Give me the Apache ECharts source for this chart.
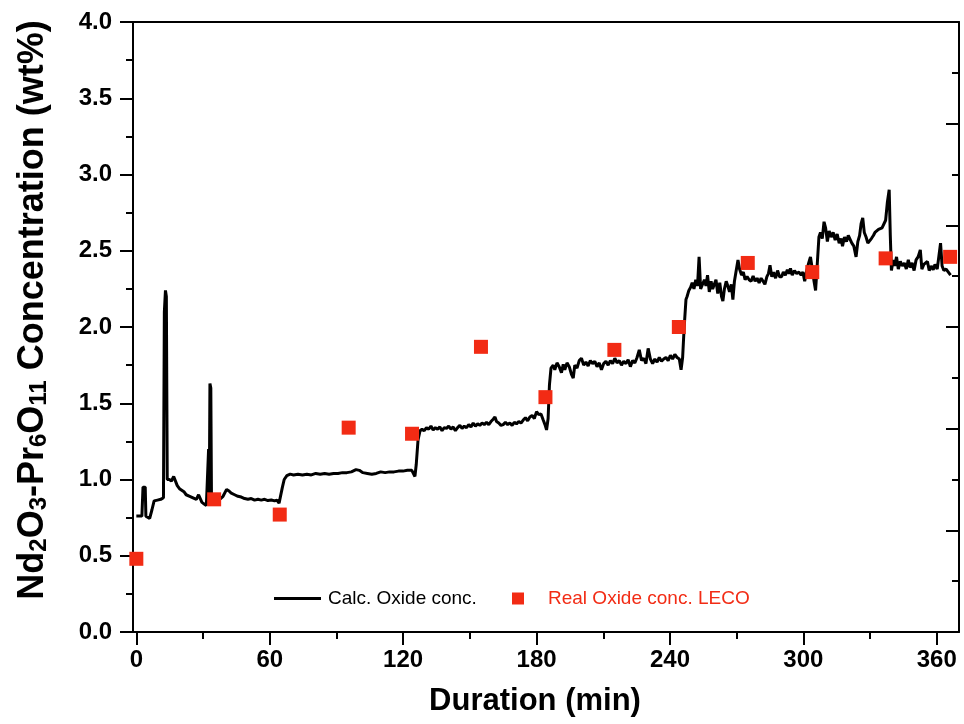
<!DOCTYPE html>
<html>
<head>
<meta charset="utf-8">
<title>Nd2O3-Pr6O11 concentration</title>
<script src="https://cdn.jsdelivr.net/npm/echarts@6/dist/echarts.min.js"></script>
<style>
html, body { margin: 0; padding: 0; background: #fff; }
#chart { width: 964px; height: 724px; }
</style>
</head>
<body>
<div id="chart"></div>
<script>
"use strict"

// calculated oxide concentration (black line), min / wt%
var calcTime = [
    0, 1.2, 2.5, 3.0, 4.0, 4.3, 5.0, 6.0, 7.0, 8.0, 9.5, 11.0, 12.2, 12.6, 13.1, 13.5, 13.9, 14.8, 15.8, 16.8,
    17.6, 18.4, 19.4, 20.4, 21.4, 22.4, 24.0, 25.5, 27.0, 28.0, 28.7, 29.5, 30.5, 31.5, 32.2, 32.5, 32.8, 33.1, 33.5, 33.8,
    34.5, 36.0, 37.5, 39.0, 40.6, 41.7, 42.7, 44.2, 45.7, 47.2, 48.7, 50.2, 51.7, 53.2, 54.7, 56.2, 57.7, 59.2, 60.7, 62.2,
    63.2, 64.2, 64.9, 65.7, 66.5, 67.7, 69.2, 70.7, 72.7, 74.7, 76.7, 78.7, 80.7, 82.7, 84.7, 86.7, 88.7, 90.7, 92.7, 94.7,
    96.7, 98.8, 100.3, 101.9, 103.9, 105.9, 107.9, 109.9, 111.9, 113.9, 115.9, 117.9, 119.9, 121.9, 123.9, 124.7, 125.3, 125.9, 126.7, 127.6,
    128.5, 129.5, 130.5, 131.5, 132.5, 133.5, 134.5, 135.5, 136.5, 137.5, 138.5, 139.5, 140.5, 141.5, 142.5, 143.5, 144.5, 145.5, 146.5, 147.5,
    148.5, 149.5, 150.5, 151.5, 152.5, 153.5, 154.5, 155.5, 156.5, 157.5, 158.5, 159.5, 160.5, 161.3, 162, 163, 164, 165, 166, 167,
    168, 169, 170, 171, 172, 173, 174, 175, 176, 177, 178, 179, 180, 181, 182, 183, 183.8, 184.5, 185.2, 185.8,
    186.5, 187.5, 188.2, 189.2, 190.2, 191.2, 192, 192.7, 193.7, 194.7, 195.7, 196.5, 197.2, 198.2, 199.2, 200.2, 201.2, 202.2, 203.2, 204.2,
    205.2, 206.2, 207.2, 208.2, 209.2, 210.2, 211.2, 212.2, 213.2, 214.2, 215.2, 216.2, 217.2, 218.2, 219.2, 220.2, 221.2, 222.2, 223.2, 224.2,
    225.2, 226.2, 227.2, 228.2, 229.2, 230.2, 231.2, 232.2, 233.2, 234.2, 235.2, 236.2, 237.2, 238.2, 239.2, 240.2, 241.2, 242.2, 243.2, 244.2,
    245.0, 245.7, 246.4, 247.2, 247.7, 248.5, 249.3, 250.0, 250.8, 251.6, 252.4, 253.1, 253.8, 254.6, 255.5, 256.2, 256.9, 257.7, 258.5, 259.2,
    259.9, 260.7, 261.5, 262.4, 263.2, 263.8, 264.5, 265.3, 266.0, 266.8, 267.6, 268.3, 269.0, 269.8, 270.6, 271.3, 272.2, 273.0, 273.8, 274.7,
    275.6, 276.5, 277.4, 278.3, 279.2, 280.1, 281.0, 281.9, 282.7, 283.6, 284.3, 285.0, 285.8, 286.6, 287.5, 288.4, 289.3, 290.2, 291.0, 291.9,
    292.8, 293.6, 294.2, 295.0, 296.0, 297.0, 298.0, 299.0, 299.8, 300.6, 301.5, 302.4, 303.2, 304.0, 304.8, 305.5, 306.2, 307.0, 307.7, 308.5,
    309.3, 310.0, 310.8, 311.6, 312.5, 313.4, 314.3, 315.2, 316.1, 317.0, 317.6, 318.5, 319.4, 320.2, 320.9, 321.8, 322.7, 323.7, 324.5, 325.3,
    326.0, 326.7, 327.4, 328.2, 329.0, 329.8, 330.6, 331.5, 332.2, 333.0, 333.8, 334.6, 335.4, 336.2, 337.0, 337.8, 338.6, 339.1, 339.6, 340.4,
    341.1, 341.9, 342.7, 343.6, 344.5, 345.4, 346.3, 347.2, 348.0, 348.9, 349.8, 350.7, 351.6, 352.6, 353.3, 354.2, 355.0, 355.8, 356.6, 357.5,
    358.4, 359.2, 360.2, 361.0, 361.7, 362.4, 363.2, 364.2, 365.2, 366.2
];
var calcConc = [
    0.76, 0.76, 0.76, 0.95, 0.95, 0.76, 0.75, 0.745, 0.80, 0.86, 0.865, 0.87, 0.88, 2.10, 2.24, 2.20, 1.00, 1.00, 0.99, 1.02,
    1.01, 0.96, 0.94, 0.93, 0.92, 0.90, 0.89, 0.88, 0.87, 0.90, 0.89, 0.85, 0.84, 0.83, 0.82, 1.20, 0.85, 1.63, 1.60, 0.88,
    0.87, 0.86, 0.87, 0.89, 0.935, 0.925, 0.91, 0.90, 0.89, 0.885, 0.875, 0.87, 0.875, 0.865, 0.87, 0.865, 0.87, 0.862, 0.866, 0.86,
    0.865, 0.845, 0.84, 0.95, 1.00, 1.025, 1.035, 1.03, 1.035, 1.03, 1.035, 1.03, 1.04, 1.035, 1.04, 1.035, 1.04, 1.04, 1.045, 1.045,
    1.05, 1.065, 1.06, 1.045, 1.04, 1.035, 1.04, 1.05, 1.045, 1.05, 1.05, 1.055, 1.055, 1.06, 1.06, 1.065, 1.02, 1.10, 1.26, 1.32,
    1.33, 1.32, 1.34, 1.33, 1.35, 1.325, 1.34, 1.33, 1.345, 1.32, 1.34, 1.335, 1.35, 1.33, 1.345, 1.32, 1.34, 1.355, 1.335, 1.35,
    1.34, 1.36, 1.345, 1.37, 1.35, 1.365, 1.355, 1.37, 1.36, 1.375, 1.36, 1.38, 1.395, 1.41, 1.38, 1.37, 1.355, 1.36, 1.375, 1.36,
    1.37, 1.355, 1.375, 1.365, 1.38, 1.37, 1.39, 1.405, 1.385, 1.41, 1.42, 1.40, 1.445, 1.425, 1.43, 1.39, 1.36, 1.325, 1.40, 1.62,
    1.73, 1.75, 1.72, 1.765, 1.74, 1.70, 1.755, 1.72, 1.765, 1.74, 1.69, 1.665, 1.75, 1.73, 1.78, 1.795, 1.75, 1.77, 1.745, 1.78,
    1.76, 1.775, 1.74, 1.765, 1.72, 1.76, 1.775, 1.75, 1.78, 1.76, 1.795, 1.765, 1.78, 1.75, 1.775, 1.76, 1.785, 1.74, 1.78, 1.765,
    1.80, 1.85, 1.78, 1.795, 1.76, 1.86, 1.79, 1.76, 1.79, 1.77, 1.80, 1.775, 1.79, 1.80, 1.78, 1.815, 1.79, 1.82, 1.80, 1.79,
    1.72, 1.80, 2.00, 2.18, 2.20, 2.24, 2.26, 2.29, 2.25, 2.31, 2.27, 2.46, 2.25, 2.24, 2.31, 2.27, 2.34, 2.23, 2.30, 2.25,
    2.24, 2.31, 2.22, 2.29, 2.20, 2.17, 2.25, 2.30, 2.27, 2.23, 2.28, 2.18, 2.30, 2.37, 2.44, 2.38, 2.34, 2.36, 2.31, 2.33,
    2.31, 2.30, 2.335, 2.30, 2.32, 2.29, 2.32, 2.30, 2.28, 2.33, 2.35, 2.405, 2.33, 2.36, 2.32, 2.37, 2.33, 2.33, 2.36, 2.34,
    2.375, 2.35, 2.385, 2.34, 2.37, 2.35, 2.36, 2.34, 2.36, 2.30, 2.37, 2.42, 2.46, 2.38, 2.30, 2.24, 2.40, 2.59, 2.62, 2.58,
    2.69, 2.65, 2.56, 2.63, 2.59, 2.62, 2.57, 2.61, 2.55, 2.58, 2.53, 2.59, 2.56, 2.60, 2.59, 2.55, 2.53, 2.46, 2.56, 2.60,
    2.68, 2.715, 2.62, 2.59, 2.55, 2.54, 2.58, 2.60, 2.62, 2.61, 2.64, 2.63, 2.65, 2.64, 2.70, 2.82, 2.90, 2.60, 2.37, 2.44,
    2.40, 2.46, 2.38, 2.43, 2.40, 2.42, 2.38, 2.44, 2.39, 2.42, 2.37, 2.44, 2.46, 2.505, 2.38, 2.41, 2.40, 2.43, 2.37, 2.40,
    2.375, 2.41, 2.38, 2.47, 2.55, 2.40, 2.37, 2.38, 2.36, 2.34
];

// LECO measurements (red squares)
var lecoTime = [0, 35, 64.5, 95.5, 124, 155, 184, 215, 244, 275, 304, 337, 366];
var lecoConc = [0.48, 0.87, 0.77, 1.34, 1.30, 1.87, 1.54, 1.85, 2.00, 2.42, 2.36, 2.45, 2.46];

var xMajorTicks = [0, 60, 120, 180, 240, 300, 360];
var xMinorTicks = [30, 90, 150, 210, 270, 330];

var FONT = "'Liberation Sans', Arial, sans-serif";
var RED = '#f22b14';

var calcData = calcTime.map(function(t, i){ return [t, calcConc[i]]; });
var lecoData = lecoTime.map(function(t, i){ return [t, lecoConc[i]]; });

var chart = echarts.init(document.getElementById('chart'));

var axisLine = { show: true, onZero: false, lineStyle: { color: '#000', width: 2 } };
var tickStyle = { color: '#000', width: 2 };

var option = {
    animation: false,
    backgroundColor: '#fff',
    grid: { left: 133, right: 5, top: 22, bottom: 92 },
    legend: [
        {
            data: ['Calc. Oxide conc.'],
            left: 269, top: 584,
            icon: 'rect',
            itemWidth: 47, itemHeight: 3,
            selectedMode: false,
            textStyle: { fontFamily: FONT, fontSize: 19, color: '#000', padding: [0, 0, 0, 2] }
        },
        {
            data: ['Real Oxide conc. LECO'],
            left: 507, top: 584,
            icon: 'rect',
            itemWidth: 12, itemHeight: 12,
            selectedMode: false,
            textStyle: { fontFamily: FONT, fontSize: 19, color: RED, padding: [0, 0, 0, 19] }
        }
    ],
    xAxis: [
        {
            type: 'value', min: -1.5, max: 370, position: 'bottom',
            axisLine: axisLine,
            axisTick: { customValues: xMajorTicks, length: 13, lineStyle: tickStyle },
            axisLabel: {
                customValues: xMajorTicks, margin: 16,
                fontFamily: FONT, fontSize: 24, fontWeight: 'bold', color: '#000'
            },
            splitLine: { show: false },
            name: 'Duration (min)',
            nameLocation: 'middle',
            nameGap: 54,
            nameTextStyle: { fontFamily: FONT, fontSize: 31, fontWeight: 'bold', color: '#000', padding: [0, 22, 0, 0] }
        },
        {
            type: 'value', min: -1.5, max: 370, position: 'bottom',
            axisLine: { show: false },
            axisTick: { customValues: xMinorTicks, length: 7, lineStyle: tickStyle },
            axisLabel: { show: false },
            splitLine: { show: false }
        },
        {
            type: 'value', min: -1.5, max: 370, position: 'top',
            axisLine: axisLine,
            axisTick: { show: false },
            axisLabel: { show: false },
            splitLine: { show: false }
        }
    ],
    yAxis: [
        {
            type: 'value', min: 0, max: 4, interval: 0.5, position: 'left',
            axisLine: axisLine,
            axisTick: { length: 13, lineStyle: tickStyle },
            minorTick: { show: true, splitNumber: 2, length: 7, lineStyle: tickStyle },
            axisLabel: {
                margin: 21,
                fontFamily: FONT, fontSize: 24, fontWeight: 'bold', color: '#000',
                formatter: function(v){ return v.toFixed(1); }
            },
            splitLine: { show: false },
            name: '{m|Nd}{s|2}{m|O}{s|3}{m|-Pr}{s|6}{m|O}{s|11}{m| Concentration (wt%)}',
            nameLocation: 'middle',
            nameRotate: 90,
            nameGap: 82,
            nameTextStyle: {
                fontFamily: FONT, fontSize: 36, fontWeight: 'bold', color: '#000',
                padding: [0, 0, 0, 34],
                rich: {
                    m: { fontFamily: FONT, fontSize: 36, fontWeight: 'bold', color: '#000', lineHeight: 40, verticalAlign: 'bottom' },
                    s: { fontFamily: FONT, fontSize: 24, fontWeight: 'bold', color: '#000', lineHeight: 10, verticalAlign: 'bottom' }
                }
            }
        },
        {
            type: 'value', min: 0, max: 6, interval: 1, position: 'right',
            axisLine: axisLine,
            axisTick: { inside: true, length: 13, lineStyle: tickStyle },
            minorTick: { show: true, splitNumber: 2, length: 7, lineStyle: tickStyle },
            axisLabel: { show: false },
            splitLine: { show: false }
        }
    ],
    series: [
        {
            name: 'Calc. Oxide conc.',
            type: 'line',
            xAxisIndex: 0, yAxisIndex: 0,
            data: calcData,
            symbol: 'none',
            color: '#000',
            lineStyle: { color: '#000', width: 3 },
            z: 2
        },
        {
            name: 'Real Oxide conc. LECO',
            type: 'scatter',
            xAxisIndex: 0, yAxisIndex: 0,
            data: lecoData,
            symbol: 'rect',
            symbolSize: 14,
            itemStyle: { color: RED, opacity: 1 },
            z: 3
        }
    ]
};

chart.setOption(option);
</script>
</body>
</html>
